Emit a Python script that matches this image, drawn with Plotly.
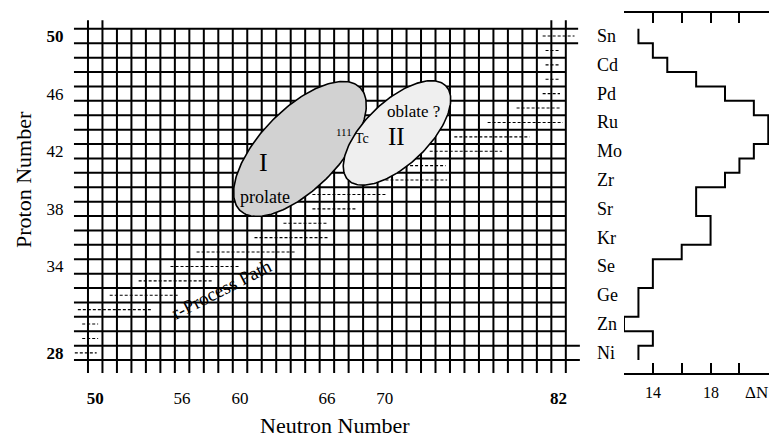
import numpy as np
import plotly.graph_objects as go

W, H = 769, 440
FONT = "Liberation Serif"

# ---------------- data ----------------
proton_Z = list(range(28, 51))
# width of the r-process path in neutron number, per Z (28..50)
delta_N = [13, 14, 12, 13, 13, 14, 14, 16, 18, 18, 17, 17, 19, 20, 21, 22, 22, 21, 19, 17, 15, 14, 13]
# r-process path extent (neutron number) for every Z (28..50)
path_N_start = [47.9, 49.1, 49.1, 48.8, 51.0, 53.0, 55.2, 57.0, 61.0, 63.0, 65.0, 65.0,
                69.7, 71.4, 73.1, 74.8, 77.1, 79.1, 80.9, 81.1, 81.1, 81.1, 80.9]
path_N_end = [50.1, 50.2, 50.2, 53.9, 55.7, 58.1, 60.0, 63.9, 66.1, 66.0, 68.1, 70.1,
              74.3, 74.2, 78.1, 80.0, 82.3, 82.2, 82.1, 82.1, 82.1, 82.1, 83.1]
elements = ["Ni", "Zn", "Ge", "Se", "Kr", "Sr", "Zr", "Mo", "Ru", "Pd", "Cd", "Sn"]
element_Z = [28, 30, 32, 34, 36, 38, 40, 42, 44, 46, 48, 50]
N_ticks = [50, 56, 60, 66, 70, 82]
Z_ticks = [28, 34, 38, 42, 46, 50]
dN_ticks = [12, 14, 16, 18, 20, 22]
dN_labels = [14, 18]
N_min, N_max = 50, 82
Z_min, Z_max = 28, 50
# deformation regions: centre N, centre Z, semi-major, semi-minor, angle(deg)
region_I = dict(N=64.14, Z=42.16, a=5.95, b=2.75, ang=46)
region_II = dict(N=70.84, Z=43.27, a=4.7, b=2.2, ang=44)

fig = go.Figure()

# ---------------- grid ----------------
gx, gy = [], []
for n in np.arange(N_min - 0.5, N_max + 1.0, 1.0):
    top = Z_max + 1.1 if n in (N_min - 0.5, N_min + 0.5, N_max - 0.5, N_max + 0.5) else Z_max + 0.5
    gx += [n, n, None]
    gy += [Z_min - 1.4, top, None]
for z in np.arange(Z_min - 0.5, Z_max + 1.0, 1.0):
    if z in (Z_min - 0.5, Z_min + 0.5):
        right = N_max + 1.47
    elif z in (Z_max - 0.5, Z_max + 0.5):
        right = N_max + 1.35
    else:
        right = N_max + 0.5
    gx += [N_min - 1.47, right, None]
    gy += [z, z, None]
fig.add_trace(go.Scatter(x=gx, y=gy, mode="lines", line=dict(color="black", width=2),
                         hoverinfo="skip", showlegend=False))

# ---------------- r-process path ----------------
px_, py_ = [], []
for z, a, b in zip(proton_Z, path_N_start, path_N_end):
    px_ += [a, b, None]
    py_ += [z, z, None]
fig.add_trace(go.Scatter(x=px_, y=py_, mode="lines",
                         line=dict(color="black", width=1.1, dash="3px,2px"),
                         hoverinfo="skip", showlegend=False))


# ---------------- deformation regions ----------------
def ellipse(r):
    t = np.linspace(0, 2 * np.pi, 200)
    c, s = np.cos(np.radians(r["ang"])), np.sin(np.radians(r["ang"]))
    ex = r["a"] * np.cos(t)
    ey = r["b"] * np.sin(t)
    return r["N"] + ex * c - ey * s, r["Z"] + ex * s + ey * c


for reg, col in ((region_I, "#d2d2d2"), (region_II, "#efefef")):
    ex, ey = ellipse(reg)
    fig.add_trace(go.Scatter(x=ex, y=ey, mode="lines", fill="toself", fillcolor=col,
                             line=dict(color="black", width=1.6),
                             hoverinfo="skip", showlegend=False))

# ---------------- Delta N step panel ----------------
sx, sy = [], []
for z, d in sorted(zip(proton_Z, delta_N), reverse=True):
    sx += [d, d]
    sy += [z + 0.5, z - 0.5]
fig.add_trace(go.Scatter(x=sx, y=sy, mode="lines", xaxis="x2", yaxis="y",
                         line=dict(color="black", width=2),
                         hoverinfo="skip", showlegend=False))

# ---------------- annotations ----------------
ann = []
def txt(x, y, s, size, xref="x", yref="y", **kw):
    d = dict(x=x, y=y, xref=xref, yref=yref, text=s, showarrow=False,
             font=dict(family=FONT, size=size, color="black"),
             xanchor="center", yanchor="middle")
    d.update(kw)
    ann.append(d)

txt(61.6, 41.2, "I", 26)
txt(61.7, 38.85, "prolate", 18)
txt(70.84, 43.0, "II", 25)
txt(72.0, 44.78, "oblate ?", 17)
txt(67.18, 43.34, "111", 11)
txt(68.45, 42.86, "Tc", 14)
txt(58.7, 32.4, "r-Process Path", 19, textangle=-27)
for el, z in zip(elements, element_Z):
    txt(595 / W, z, el, 18, xref="paper", xanchor="left")
for v in dN_labels:
    txt(v, 1 - 392 / H, str(v), 16, xref="x2", yref="paper")
txt(743 / W, 1 - 392 / H, "ΔN", 17, xref="paper", yref="paper", xanchor="left")
txt(335 / W, 1 - 425 / H, "Neutron Number", 22, xref="paper", yref="paper")
txt(23 / W, 1 - 180 / H, "Proton Number", 22, xref="paper", yref="paper", textangle=-90)

fig.update_layout(
    width=W, height=H, margin=dict(l=0, r=0, t=0, b=0),
    paper_bgcolor="white", plot_bgcolor="white",
    font=dict(family=FONT, size=17, color="black"),
    annotations=ann,
    xaxis=dict(domain=[73.5 / W, 580.3 / W], range=[48.5, 83.5], showgrid=False,
               zeroline=False, showline=False, tickvals=N_ticks,
               ticktext=[f"<b>{v}</b>" if v in (50, 82) else str(v) for v in N_ticks],
               ticks="", ticklabelstandoff=13, tickfont=dict(size=17)),
    yaxis=dict(domain=[(H - 373) / H, (H - 13) / H], range=[26.6, 51.6], showgrid=False,
               zeroline=False, showline=False, tickvals=Z_ticks,
               ticktext=[f"<b>{v}</b>" if v in (28, 50) else str(v) for v in Z_ticks],
               ticks="", ticklabelstandoff=9, tickfont=dict(size=17)),
    xaxis2=dict(domain=[624 / W, 1.0], range=[12, 22.05], anchor="y", showgrid=False,
                zeroline=False, showline=True, linecolor="black", linewidth=2,
                mirror="ticks", ticks="inside", ticklen=10, tickwidth=2, tickcolor="black",
                tickvals=dN_ticks, showticklabels=False),
)

fig.write_html("out.html")
